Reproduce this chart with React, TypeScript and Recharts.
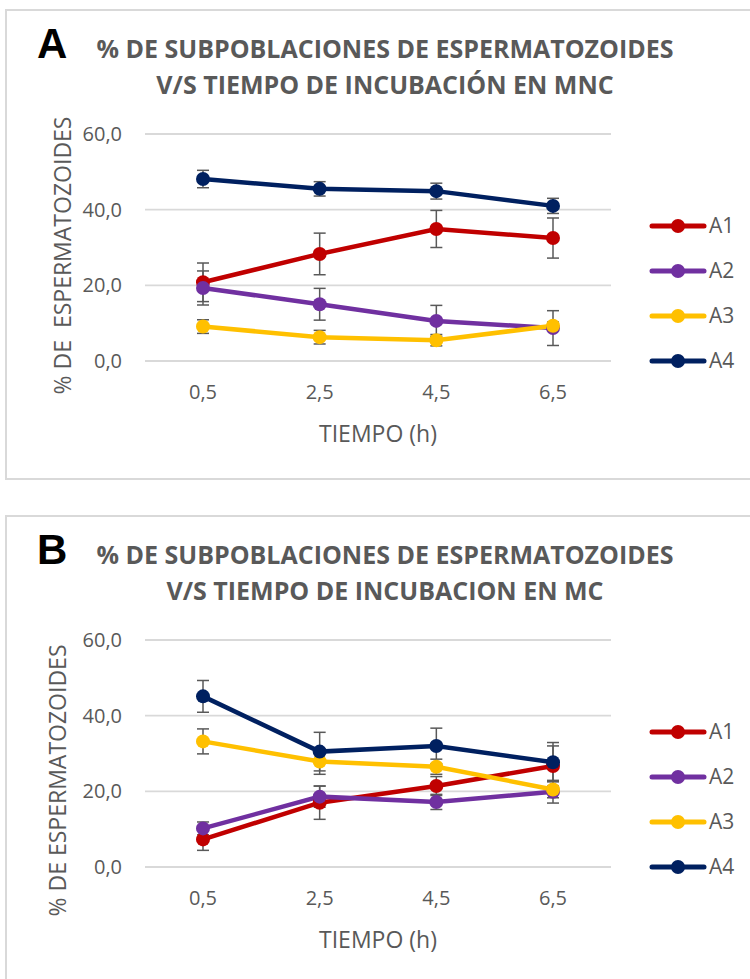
import React from 'react';
import { LineChart, Line, XAxis, YAxis, CartesianGrid, ErrorBar, Legend } from 'recharts';

const tiempos = ['0,5', '2,5', '4,5', '6,5'];
const subpoblaciones = ['A1', 'A2', 'A3', 'A4'];
const yTicks = [0, 20, 40, 60];

// MNC (panel A)
const mncA1 = [20.8, 28.3, 34.9, 32.5];
const mncA1Err = [5.1, 5.5, 4.9, 5.3];
const mncA2 = [19.3, 15.0, 10.6, 8.7];
const mncA2Err = [4.5, 4.2, 4.1, 4.6];
const mncA3 = [9.1, 6.3, 5.5, 9.3];
const mncA3Err = [1.8, 1.8, 1.5, 1.0];
const mncA4 = [48.1, 45.5, 44.9, 41.0];
const mncA4Err = [2.3, 1.9, 2.1, 2.0];

// MC (panel B)
const mcA1 = [7.3, 17.0, 21.4, 26.7];
const mcA1Err = [2.9, 4.4, 2.5, 5.3];
const mcA2 = [10.2, 18.6, 17.2, 19.9];
const mcA2Err = [1.7, 2.8, 2.0, 3.0];
const mcA3 = [33.2, 27.9, 26.5, 20.5];
const mcA3Err = [3.3, 3.4, 2.0, 2.2];
const mcA4 = [45.1, 30.5, 32.0, 27.7];
const mcA4Err = [4.2, 5.1, 4.7, 5.2];

const colores: Record<string, string> = {
  A1: '#c00000',
  A2: '#7030a0',
  A3: '#ffc000',
  A4: '#002060',
};

const FONT = "'Open Sans', sans-serif";
const GRIS = '#595959';

const buildRows = (vals: number[][], errs: number[][]) =>
  tiempos.map((t, i) => {
    const row: any = { t };
    subpoblaciones.forEach((s, j) => {
      row[s] = vals[j][i];
      row[s + 'e'] = errs[j][i];
    });
    return row;
  });

const rowsMNC = buildRows([mncA1, mncA2, mncA3, mncA4], [mncA1Err, mncA2Err, mncA3Err, mncA4Err]);
const rowsMC = buildRows([mcA1, mcA2, mcA3, mcA4], [mcA1Err, mcA2Err, mcA3Err, mcA4Err]);

const renderLegend = (props: any) => {
  const items = props.payload || [];
  return (
    <div style={{ display: 'flex', flexDirection: 'column', fontFamily: FONT }}>
      {items.map((it: any) => (
        <div key={it.value} style={{ height: 45, display: 'flex', alignItems: 'center' }}>
          <svg width={58} height={18}>
            <line x1={3} x2={55} y1={9} y2={9} stroke={it.color} strokeWidth={5} strokeLinecap="round" />
            <circle cx={29} cy={9} r={7} fill={it.color} />
          </svg>
          <span style={{ fontSize: 21, color: GRIS, marginLeft: 2, lineHeight: '21px' }}>{it.value}</span>
        </div>
      ))}
    </div>
  );
};

function Panel({ top, letter, title1, title2, yLabel, rows, labelDx, labelDy, boxHeight }: any) {
  const xLabel = (p: any) => {
    const vb = p.viewBox || {};
    return (
      <text x={vb.x + vb.width / 2} y={vb.y + 72} textAnchor="middle" dominantBaseline="central"
        fill={GRIS} fontSize={23} fontFamily={FONT}>
        TIEMPO (h)
      </text>
    );
  };
  const yLab = (p: any) => {
    const vb = p.viewBox || {};
    const cx = vb.x + labelDx;
    const cy = vb.y + vb.height / 2 + labelDy;
    return (
      <text x={cx} y={cy} transform={`rotate(-90, ${cx}, ${cy})`} textAnchor="middle" dominantBaseline="central"
        fill={GRIS} fontSize={23} fontFamily={FONT} style={{ whiteSpace: 'pre' }}>
        {yLabel}
      </text>
    );
  };

  return (
    <div style={{ position: 'absolute', left: 0, top, width: 750, height: 480 }}>
      <div style={{ position: 'absolute', left: 5, top: 9, width: 800, height: boxHeight, border: '2px solid #d9d9d9', boxSizing: 'border-box' }} />
      <div style={{ position: 'absolute', left: 37, top: 23, fontFamily: "'Liberation Sans', Arial, sans-serif", fontWeight: 700, fontSize: 42, lineHeight: '42px', color: '#000' }}>
        {letter}
      </div>
      <div style={{ position: 'absolute', left: 0, top: 30, width: 770, textAlign: 'center', fontFamily: FONT, fontWeight: 700, fontSize: 25, lineHeight: '36px', color: GRIS }}>
        <div>{title1}</div>
        <div>{title2}</div>
      </div>
      <div style={{ position: 'absolute', left: 0, top: 0 }}>
        <LineChart width={750} height={470} data={rows} margin={{ top: 134, right: 139, bottom: 29, left: 85 }}>
          <CartesianGrid vertical={false} stroke="#d9d9d9" strokeWidth={1.8} />
          <XAxis dataKey="t" axisLine={false} tickLine={false} height={80} padding={{ left: 58, right: 58 }}
            tick={{ fill: GRIS, fontSize: 20, fontFamily: FONT }} tickMargin={18} label={xLabel} />
          <YAxis domain={[0, 60]} ticks={yTicks} width={60} axisLine={false} tickLine={false} tickMargin={17}
            tickFormatter={(v: number) => v.toFixed(1).replace('.', ',')}
            tick={{ fill: GRIS, fontSize: 20, fontFamily: FONT }} label={yLab} />
          <Legend layout="horizontal" verticalAlign="middle" align="center" content={renderLegend}
            wrapperStyle={{ left: 649, top: 203, width: 101, height: 180 }} />
          {subpoblaciones.map((s) => (
            <Line key={s} name={s} dataKey={s} stroke={colores[s]} strokeWidth={4.5}
              dot={{ r: 7, fill: colores[s], stroke: colores[s], strokeWidth: 0 }} activeDot={false}
              isAnimationActive={false}>
              <ErrorBar dataKey={s + 'e'} direction="y" width={6} stroke={GRIS} strokeWidth={1.5} isAnimationActive={false} />
            </Line>
          ))}
        </LineChart>
      </div>
    </div>
  );
}

export default function App() {
  return (
    <div style={{ position: 'absolute', left: 0, top: 0, width: 750, height: 979, overflow: 'hidden', background: '#fff' }}>
      <Panel top={0} letter="A" title1="% DE SUBPOBLACIONES DE ESPERMATOZOIDES" title2="V/S TIEMPO DE INCUBACIÓN EN MNC"
        yLabel="% DE  ESPERMATOZOIDES" rows={rowsMNC} labelDx={-23} labelDy={8} boxHeight={471} />
      <Panel top={506} letter="B" title1="% DE SUBPOBLACIONES DE ESPERMATOZOIDES" title2="V/S TIEMPO DE INCUBACION EN MC"
        yLabel="% DE ESPERMATOZOIDES" rows={rowsMC} labelDx={-28} labelDy={27} boxHeight={600} />
    </div>
  );
}
